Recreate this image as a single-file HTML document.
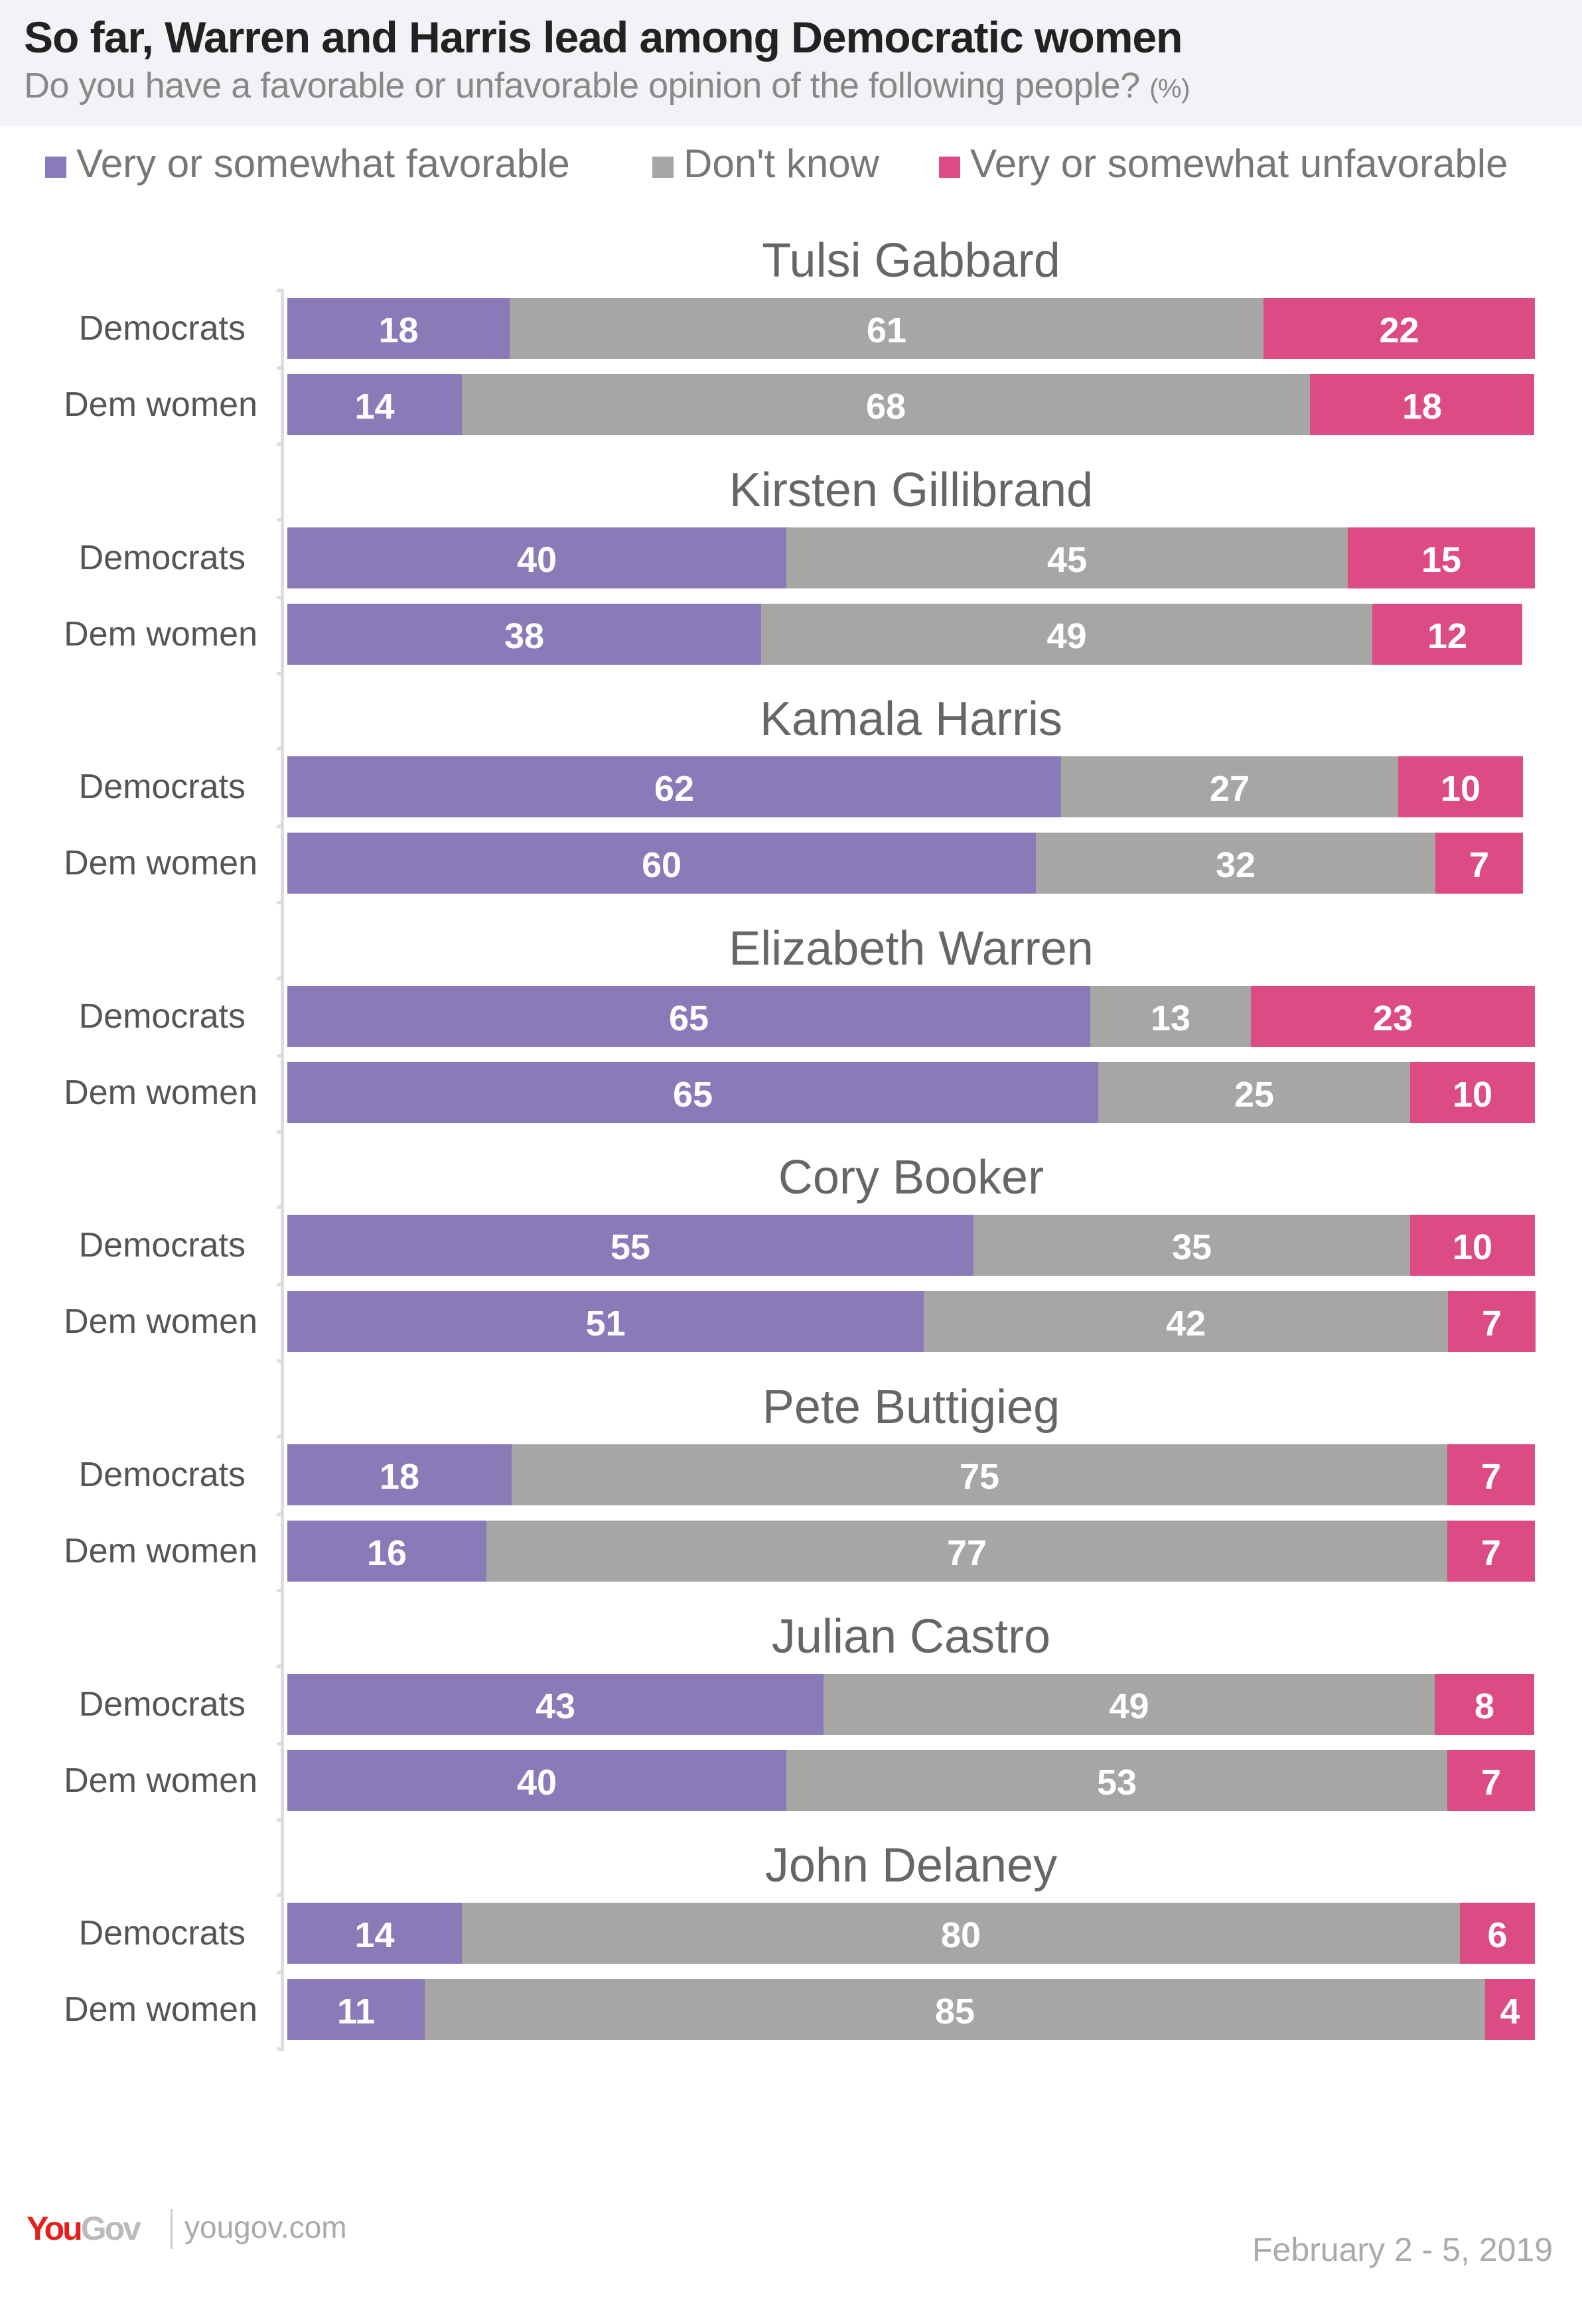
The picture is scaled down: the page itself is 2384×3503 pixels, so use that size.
<!DOCTYPE html>
<html><head><meta charset="utf-8"><style>
body{margin:0;width:2384px;height:3503px;background:#fff;position:relative;font-family:"Liberation Sans",sans-serif;overflow:hidden}
.hdr{position:absolute;left:0;top:0;width:2384px;height:190px;background:#f2f2f7}
.t{position:absolute;left:36px;top:18px;font-size:66px;font-weight:bold;color:#222;letter-spacing:-1px}
.s{position:absolute;left:36px;top:98px;font-size:54px;color:#888;letter-spacing:-0.5px}
.lg{position:absolute;top:212px;font-size:60px;color:#777;white-space:nowrap}
.sq{position:absolute;width:32px;height:32px;top:236px}
.axis{position:absolute;left:423px;top:435px;width:5px;height:2657px;background:#ddd}
.tick{position:absolute;left:417px;width:8px;height:5px;background:#ddd}
.gt{position:absolute;left:433px;width:1880px;text-align:center;font-size:72px;color:#666;height:80px;line-height:80px}
.row{position:absolute;left:433px;height:92px;display:flex}
.row div{height:92px;line-height:98px;text-align:center;color:#fff;font-weight:bold;font-size:54px}
.p{background:#8a7ab8}.g{background:#a6a6a5}.k{background:#dd4b84}
.lab{position:absolute;width:390px;left:0;text-align:right;font-size:52px;color:#555;height:92px;line-height:92px}
.ft{position:absolute;font-size:50px;color:#aaa}
</style></head><body>
<div class="hdr"></div>
<div class="t">So far, Warren and Harris lead among Democratic women</div>
<div class="s">Do you have a favorable or unfavorable opinion of the following people? <span style="font-size:40px">(%)</span></div>
<div class="sq" style="left:68px;background:#8a7ab8"></div><div class="lg" style="left:115px">Very or somewhat favorable</div>
<div class="sq" style="left:983px;background:#a6a6a5"></div><div class="lg" style="left:1030px">Don't know</div>
<div class="sq" style="left:1415px;background:#dd4b84"></div><div class="lg" style="left:1462px">Very or somewhat unfavorable</div>
<div class="axis"></div>

<div class="gt" style="top:353px">Tulsi Gabbard</div>
<div class="lab" style="top:449px;width:370px">Democrats</div><div class="row" style="top:449px"><div class="p" style="width:335px">18</div><div class="g" style="width:1136px">61</div><div class="k" style="width:409px">22</div></div>
<div class="lab" style="top:564px;width:388px">Dem women</div><div class="row" style="top:564px"><div class="p" style="width:263px">14</div><div class="g" style="width:1278px">68</div><div class="k" style="width:338px">18</div></div>

<div class="gt" style="top:699px">Kirsten Gillibrand</div>
<div class="lab" style="top:795px;width:370px">Democrats</div><div class="row" style="top:795px"><div class="p" style="width:752px">40</div><div class="g" style="width:846px">45</div><div class="k" style="width:282px">15</div></div>
<div class="lab" style="top:910px;width:388px">Dem women</div><div class="row" style="top:910px"><div class="p" style="width:714px">38</div><div class="g" style="width:921px">49</div><div class="k" style="width:226px">12</div></div>

<div class="gt" style="top:1044px">Kamala Harris</div>
<div class="lab" style="top:1140px;width:370px">Democrats</div><div class="row" style="top:1140px"><div class="p" style="width:1166px">62</div><div class="g" style="width:508px">27</div><div class="k" style="width:188px">10</div></div>
<div class="lab" style="top:1255px;width:388px">Dem women</div><div class="row" style="top:1255px"><div class="p" style="width:1128px">60</div><div class="g" style="width:602px">32</div><div class="k" style="width:132px">7</div></div>

<div class="gt" style="top:1390px">Elizabeth Warren</div>
<div class="lab" style="top:1486px;width:370px">Democrats</div><div class="row" style="top:1486px"><div class="p" style="width:1210px">65</div><div class="g" style="width:242px">13</div><div class="k" style="width:428px">23</div></div>
<div class="lab" style="top:1601px;width:388px">Dem women</div><div class="row" style="top:1601px"><div class="p" style="width:1222px">65</div><div class="g" style="width:470px">25</div><div class="k" style="width:188px">10</div></div>

<div class="gt" style="top:1735px">Cory Booker</div>
<div class="lab" style="top:1831px;width:370px">Democrats</div><div class="row" style="top:1831px"><div class="p" style="width:1034px">55</div><div class="g" style="width:658px">35</div><div class="k" style="width:188px">10</div></div>
<div class="lab" style="top:1946px;width:388px">Dem women</div><div class="row" style="top:1946px"><div class="p" style="width:959px">51</div><div class="g" style="width:790px">42</div><div class="k" style="width:132px">7</div></div>

<div class="gt" style="top:2081px">Pete Buttigieg</div>
<div class="lab" style="top:2177px;width:370px">Democrats</div><div class="row" style="top:2177px"><div class="p" style="width:338px">18</div><div class="g" style="width:1410px">75</div><div class="k" style="width:132px">7</div></div>
<div class="lab" style="top:2292px;width:388px">Dem women</div><div class="row" style="top:2292px"><div class="p" style="width:300px">16</div><div class="g" style="width:1448px">77</div><div class="k" style="width:132px">7</div></div>

<div class="gt" style="top:2427px">Julian Castro</div>
<div class="lab" style="top:2523px;width:370px">Democrats</div><div class="row" style="top:2523px"><div class="p" style="width:808px">43</div><div class="g" style="width:921px">49</div><div class="k" style="width:150px">8</div></div>
<div class="lab" style="top:2638px;width:388px">Dem women</div><div class="row" style="top:2638px"><div class="p" style="width:752px">40</div><div class="g" style="width:996px">53</div><div class="k" style="width:132px">7</div></div>

<div class="gt" style="top:2772px">John Delaney</div>
<div class="lab" style="top:2868px;width:370px">Democrats</div><div class="row" style="top:2868px"><div class="p" style="width:263px">14</div><div class="g" style="width:1504px">80</div><div class="k" style="width:113px">6</div></div>
<div class="lab" style="top:2983px;width:388px">Dem women</div><div class="row" style="top:2983px"><div class="p" style="width:207px">11</div><div class="g" style="width:1598px">85</div><div class="k" style="width:75px">4</div></div>

<div class="tick" style="top:435px"></div><div class="tick" style="top:552px"></div><div class="tick" style="top:667px"></div>
<div class="tick" style="top:781px"></div><div class="tick" style="top:898px"></div><div class="tick" style="top:1013px"></div>
<div class="tick" style="top:1126px"></div><div class="tick" style="top:1243px"></div><div class="tick" style="top:1358px"></div>
<div class="tick" style="top:1472px"></div><div class="tick" style="top:1589px"></div><div class="tick" style="top:1704px"></div>
<div class="tick" style="top:1817px"></div><div class="tick" style="top:1934px"></div><div class="tick" style="top:2049px"></div>
<div class="tick" style="top:2163px"></div><div class="tick" style="top:2280px"></div><div class="tick" style="top:2395px"></div>
<div class="tick" style="top:2509px"></div><div class="tick" style="top:2626px"></div><div class="tick" style="top:2741px"></div>
<div class="tick" style="top:2854px"></div><div class="tick" style="top:2971px"></div><div class="tick" style="top:3086px"></div>

<div class="ft" style="left:40px;top:3330px;font-weight:bold;letter-spacing:-3px"><span style="color:#e2211c">You</span><span style="color:#bbb">Gov</span></div>
<div style="position:absolute;left:257px;top:3330px;width:3px;height:60px;background:#ccc"></div>
<div class="ft" style="left:278px;top:3330px;font-size:46px">yougov.com</div>
<div class="ft" style="right:44px;top:3362px">February 2 - 5, 2019</div>
</body></html>
